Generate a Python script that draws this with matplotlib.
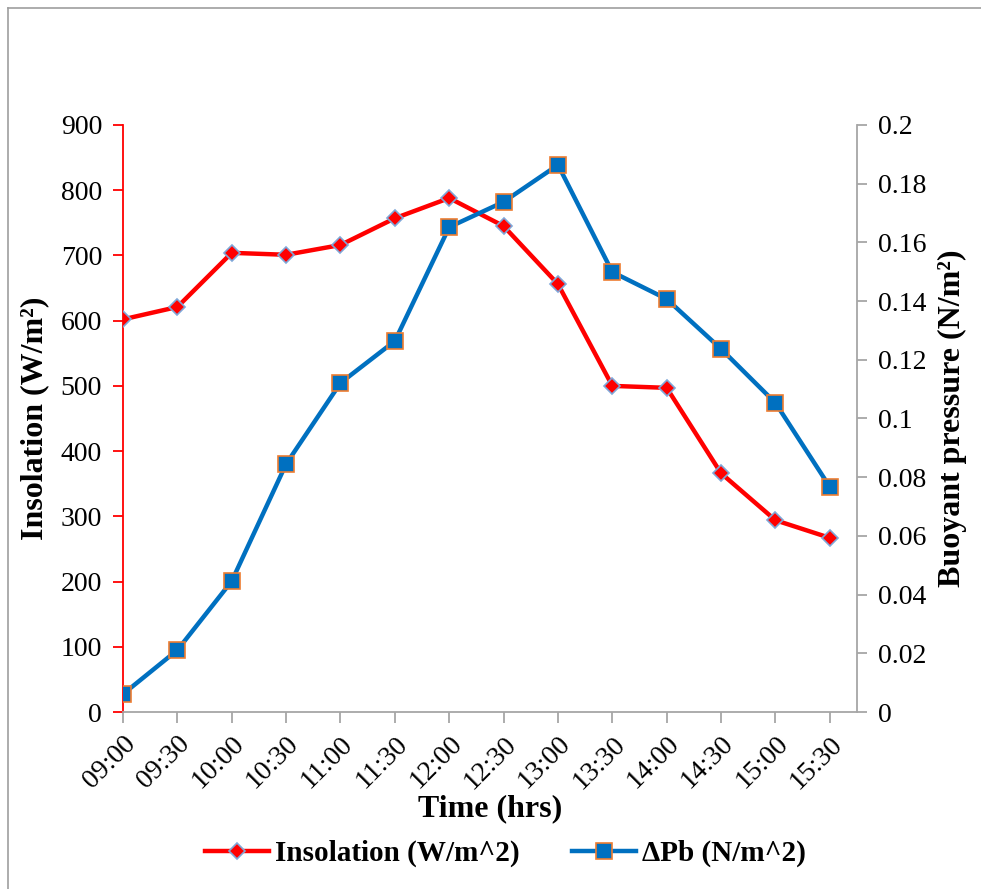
import matplotlib.pyplot as plt
from matplotlib.lines import Line2D

plt.rcParams['font.family'] = ['Liberation Serif', 'DejaVu Serif']

# Messzeiten und Messwerte
times = ['09:00', '09:30', '10:00', '10:30', '11:00', '11:30', '12:00',
         '12:30', '13:00', '13:30', '14:00', '14:30', '15:00', '15:30']
insolation = [602, 621, 704, 701, 716, 757, 788, 745, 656, 500, 497, 366, 294, 267]
buoyant = [0.0061, 0.0211, 0.0446, 0.0845, 0.1121, 0.1264, 0.1652, 0.1738,
           0.1864, 0.1499, 0.1407, 0.1237, 0.1053, 0.0767]

x = list(range(len(times)))

fig = plt.figure(figsize=(9.81, 8.89), dpi=100)
ax = fig.add_axes([0.1254, 0.1991, 0.7482, 0.6603])
ax2 = ax.twinx()

grey = '#A6A6A6'
red = '#FF0000'
blue = '#0070C0'

l1, = ax.plot(x, insolation, color=red, lw=3.2, marker='D', ms=8.5,
              mfc=red, mec='#7FA7D8', mew=1.2, zorder=3)
l2, = ax2.plot(x, buoyant, color=blue, lw=3.2, marker='s', ms=11,
               mfc=blue, mec='#ED7D31', mew=1.2, zorder=3)

ax.set_xlim(0, 13.5)
ax.set_ylim(0, 900)
ax.set_yticks(range(0, 901, 100))
ax2.set_ylim(0, 0.2)
ax2.set_yticks([0, 0.02, 0.04, 0.06, 0.08, 0.1, 0.12, 0.14, 0.16, 0.18, 0.2])
ax2.set_yticklabels(['0', '0.02', '0.04', '0.06', '0.08', '0.1', '0.12',
                     '0.14', '0.16', '0.18', '0.2'])

ax.set_xticks(x)
ax.set_xticklabels(times, rotation=45, ha='right', rotation_mode='anchor')

for a in (ax, ax2):
    a.spines['top'].set_visible(False)
ax.spines['right'].set_visible(False)
ax2.spines['left'].set_visible(False)
ax.spines['left'].set_color(red)
ax.spines['bottom'].set_color(grey)
ax2.spines['right'].set_color(grey)
ax2.spines['bottom'].set_visible(False)
for s in ('left', 'bottom'):
    ax.spines[s].set_linewidth(1.3)
ax2.spines['right'].set_linewidth(1.3)

ax.tick_params(axis='y', colors=red, labelcolor='black', labelsize=20,
               length=7, width=1.3, pad=8)
ax.tick_params(axis='x', colors=grey, labelcolor='black', labelsize=20,
               length=8, width=1.3, pad=6)
ax2.tick_params(axis='y', colors=grey, labelcolor='black', labelsize=20,
                length=7, width=1.3, pad=8)

ax.set_ylabel('Insolation (W/m²)', fontsize=23, fontweight='bold', labelpad=8)
ax2.set_ylabel('Buoyant pressure (N/m²)', fontsize=23, fontweight='bold',
               labelpad=8)
ax.set_xlabel('Time (hrs)', fontsize=23, fontweight='bold', labelpad=0)

fig.legend([l1, l2], ['Insolation (W/m^2)', 'ΔPb (N/m^2)'],
           loc='center', bbox_to_anchor=(0.515, 0.04), ncol=2, frameon=False,
           prop={'size': 21, 'weight': 'bold'}, handlelength=2.2,
           columnspacing=1.8, handletextpad=0.2)

# Rahmen oben und links
fig.add_artist(Line2D([8 / 981, 1.0], [1 - 8 / 889, 1 - 8 / 889],
                      transform=fig.transFigure, color='#9E9E9E', lw=1.2))
fig.add_artist(Line2D([8 / 981, 8 / 981], [0.0, 1 - 8 / 889],
                      transform=fig.transFigure, color='#9E9E9E', lw=1.2))

plt.savefig('out.png', dpi=100)
